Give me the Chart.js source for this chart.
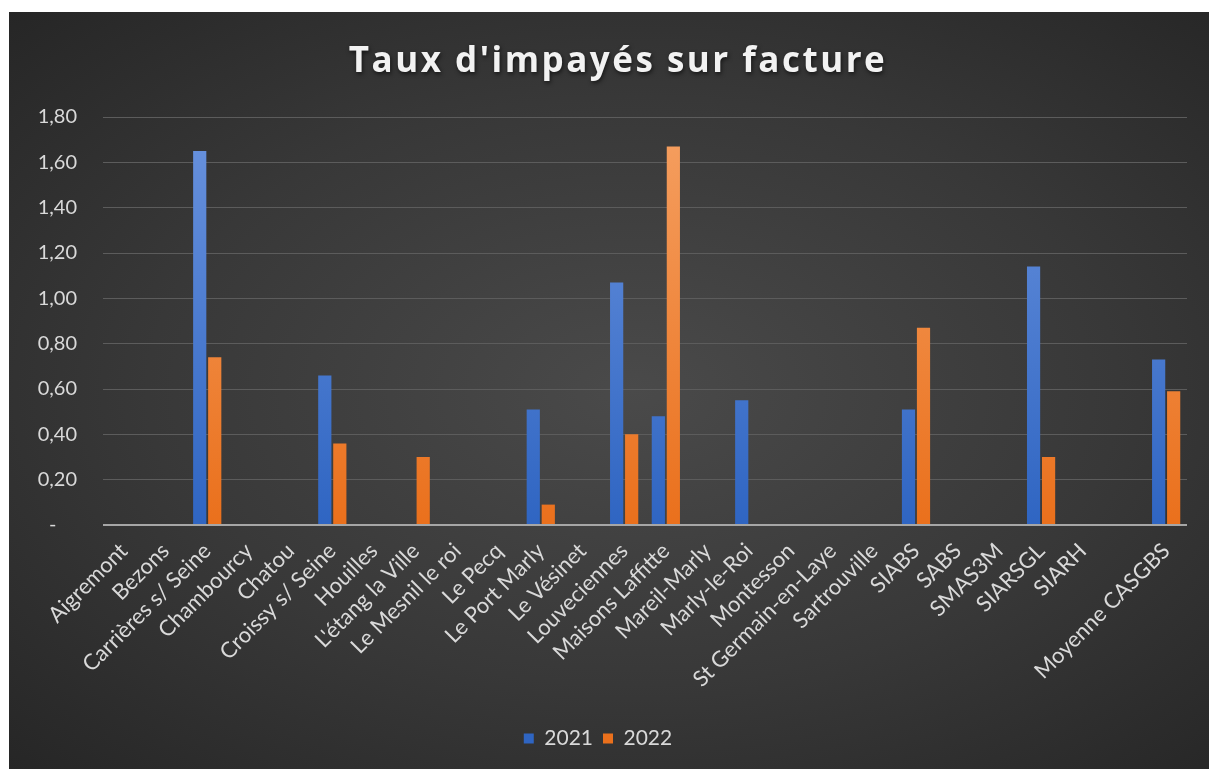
<!DOCTYPE html>
<html>
<head>
<meta charset="utf-8">
<script src="https://cdn.jsdelivr.net/npm/chart.js@4.4.0/dist/chart.umd.min.js"></script>
<style>
    body { margin: 0; background: #ffffff; }
    #frame {
        position: absolute;
        left: 9px;
        top: 12px;
        width: 1200px;
        height: 757px;
        background: radial-gradient(ellipse at 52% 50%, #4a4a4a 0%, #383838 55%, #262626 100%);
    }
</style>
</head>
<body>
<div id="frame"><canvas id="myChart" width="1200" height="757"></canvas></div>
<script>
const chartTitle = "Taux d'impayés sur facture";

const categories = ['Aigremont', 'Bezons', 'Carrières s/ Seine', 'Chambourcy', 'Chatou', 'Croissy s/ Seine',
    'Houilles', "L'étang la Ville", 'Le Mesnil le roi', 'Le Pecq', 'Le Port Marly', 'Le Vésinet',
    'Louveciennes', 'Maisons Laffitte', 'Mareil-Marly', 'Marly-le-Roi', 'Montesson', 'St Germain-en-Laye',
    'Sartrouville', 'SIABS', 'SABS', 'SMAS3M', 'SIARSGL', 'SIARH', '', 'Moyenne CASGBS'];

const values2021 = [null, null, 1.65, null, null, 0.66, null, null, null, null, 0.51, null,
    1.07, 0.48, null, 0.55, null, null, null, 0.51, null, null, 1.14, null, null, 0.73];

const values2022 = [null, null, 0.74, null, null, 0.36, null, 0.30, null, null, 0.09, null,
    0.40, 1.67, null, null, null, null, null, 0.87, null, null, 0.30, null, null, 0.59];

const yTicks = [0, 0.2, 0.4, 0.6, 0.8, 1.0, 1.2, 1.4, 1.6, 1.8];

const labelColor = '#d9d9d9';

// vertical gradient, like the Excel fill
function barFill(top, bottom) {
    return function (context) {
        const chart = context.chart;
        const area = chart.chartArea;
        if (!area) return bottom;
        const g = chart.ctx.createLinearGradient(0, area.top, 0, area.bottom);
        g.addColorStop(0, top);
        g.addColorStop(1, bottom);
        return g;
    };
}

// title drawn by hand so it can get letter spacing and a shadow
const spacedTitle = {
    id: 'spacedTitle',
    afterDraw(chart) {
        const c = chart.ctx;
        c.save();
        c.font = 'bold 35px "Open Sans"';
        c.letterSpacing = '2.5px';
        c.fillStyle = '#f2f2f2';
        c.textAlign = 'center';
        c.textBaseline = 'middle';
        c.shadowColor = 'rgba(0,0,0,0.6)';
        c.shadowBlur = 4;
        c.shadowOffsetX = 1;
        c.shadowOffsetY = 2;
        c.fillText(chartTitle, chart.width / 2 + 9, 50);
        c.restore();
    }
};

const ctx = document.getElementById('myChart').getContext('2d');

const myChart = new Chart(ctx, {
    type: 'bar',
    data: {
        labels: categories,
        datasets: [{
            label: '2021',
            data: values2021,
            backgroundColor: barFill('#6a93de', '#2f65c2'),
            categoryPercentage: 0.72,
            barPercentage: 0.88
        }, {
            label: '2022',
            data: values2022,
            backgroundColor: barFill('#f5a062', '#ea701c'),
            categoryPercentage: 0.72,
            barPercentage: 0.88
        }]
    },
    plugins: [spacedTitle],
    options: {
        responsive: false,
        animation: false,
        layout: {
            padding: { left: 0, right: 22, top: 105, bottom: 10 }
        },
        plugins: {
            title: { display: false },
            legend: {
                position: 'bottom',
                labels: {
                    color: labelColor,
                    font: { family: 'Lato', size: 21 },
                    boxWidth: 10,
                    boxHeight: 10,
                    padding: 10
                }
            },
            tooltip: { enabled: false }
        },
        scales: {
            x: {
                grid: { display: false },
                border: { display: false },
                ticks: {
                    color: labelColor,
                    font: { family: 'Lato', size: 22 },
                    maxRotation: 45,
                    minRotation: 45,
                    autoSkip: false,
                    padding: 5
                },
                afterFit: function (scale) {
                    scale.height = 193;
                }
            },
            y: {
                min: 0,
                max: 1.8,
                border: { display: false },
                grid: {
                    drawTicks: false,
                    color: function (c) { return c.tick.value === 0 ? '#a6a6a6' : '#5c5c5c'; },
                    lineWidth: function (c) { return c.tick.value === 0 ? 2 : 1; }
                },
                afterBuildTicks: function (scale) {
                    scale.ticks = yTicks.map(v => ({ value: v }));
                },
                ticks: {
                    color: labelColor,
                    font: { family: 'Lato', size: 20 },
                    padding: 26,
                    callback: function (v) {
                        return v === 0 ? '-    ' : v.toFixed(2).replace('.', ',');
                    }
                },
                afterFit: function (scale) {
                    scale.width = 94;
                }
            }
        }
    }
});
</script>
</body>
</html>
